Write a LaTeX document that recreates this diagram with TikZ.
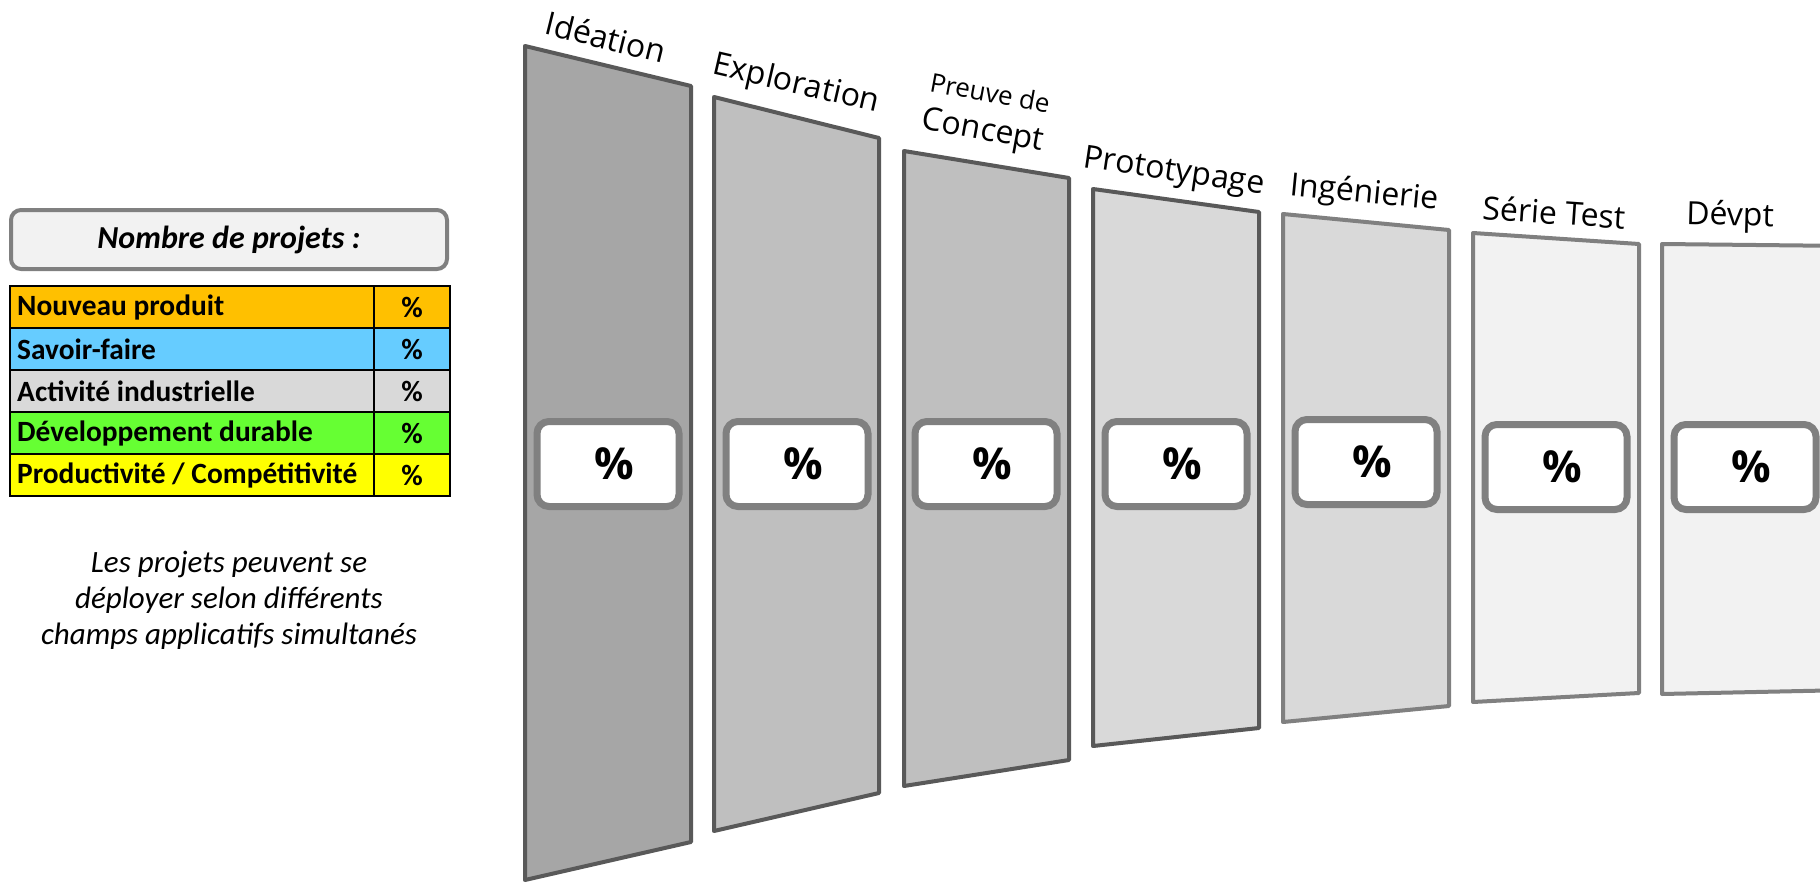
\documentclass[tikz,border=0pt]{standalone}
\usepackage{fontspec}
\setmainfont{Carlito}
\newfontfamily\etapefont{Open Sans}
\usetikzlibrary{shapes}
\definecolor{etapeA}{HTML}{A6A6A6}
\definecolor{etapeB}{HTML}{BFBFBF}
\definecolor{etapeC}{HTML}{D9D9D9}
\definecolor{etapeD}{HTML}{F2F2F2}
\definecolor{bordA}{HTML}{595959}
\definecolor{bordB}{HTML}{808080}
\definecolor{champNP}{HTML}{FFC000}
\definecolor{champSF}{HTML}{66CCFF}
\definecolor{champAI}{HTML}{D9D9D9}
\definecolor{champDD}{HTML}{66FF33}
\definecolor{champPC}{HTML}{FFFF00}
\tikzset{
	every node/.style={
		font=\fontsize{14}{16}\selectfont
	},
	titre/.style={
		shape=rectangle,
		minimum width=218pt,
		minimum height=29.5pt,
		rounded corners=5pt,
		fill=etapeD,
		draw=bordB,
		line width=2pt,
		font=\fontsize{16}{18}\selectfont\bfseries\itshape
	},
	cellule/.style={
		shape=rectangle,
		anchor=north west,
		text width=175pt,
		inner xsep=3.5pt,
		inner ysep=0pt,
		minimum height=21pt,
		align=flush left,
		draw=black,
		line width=1.2pt,
		font=\fontsize{14.7}{16}\selectfont\bfseries
	},
	cellpct/.style={
		shape=rectangle,
		anchor=north west,
		minimum width=38pt,
		minimum height=21pt,
		inner sep=0pt,
		draw=black,
		line width=1.2pt,
		font=\fontsize{14.7}{16}\selectfont\bfseries
	},
	remarque/.style={
		align=flush center,
		font=\fontsize{15.5}{18}\selectfont\itshape
	},
	panneau/.style={
		line width=2pt,
		line join=round
	},
	boitepct/.style={
		shape=rectangle,
		minimum width=71pt,
		minimum height=42.5pt,
		rounded corners=6pt,
		fill=white,
		draw=bordB,
		line width=3.5pt,
		text depth=0pt,
		font=\etapefont\fontsize{22}{24}\selectfont\bfseries
	},
	etiquette/.style={
		align=center,
		inner sep=0pt,
		font=\etapefont\fontsize{16}{17}\selectfont
	}
}

\begin{document}
\begin{tikzpicture}[x=0.5pt, y=-0.5pt]
	\useasboundingbox (0,0) rectangle (1820,883);
	\clip (0,0) rectangle (1820,883);
	
	\node[titre] (titre) at (229,239.5) {Nombre de projets :};
	
	\foreach \lbl/\col [count=\i] in {Nouveau produit/champNP, Savoir-faire/champSF, Activité industrielle/champAI, Développement durable/champDD, {Productivité / Compétitivité}/champPC}
	{
		\node[cellule, fill=\col] (champ-\i) at (9,{285+42*(\i-1)}) {\lbl};
		\node[cellpct, fill=\col] (pc-\i) at (373,{285+42*(\i-1)}) {\%};
	}
	
	\node[remarque] (remarque) at (229,600) {Les projets peuvent se\\déployer selon différents\\champs applicatifs simultanés};
	
	\foreach \i/\xl/\xr/\ya/\yb/\yc/\yd/\fc/\dc in {
		1/525/691/46/86/842/880/etapeA/bordA,
		2/714/879/97/138/793/831/etapeB/bordA,
		3/904/1069/151/178/760/786/etapeB/bordA,
		4/1093/1259/189/212/728/746/etapeC/bordA,
		5/1283/1449/214/230/706/722/etapeC/bordB,
		6/1473/1639/233/244/693/702/etapeD/bordB,
		7/1662/1850/244/246/690/694/etapeD/bordB}
	\draw[panneau, fill=\fc, draw=\dc] (\xl,\ya) -- (\xr,\yb) -- (\xr,\yc) -- (\xl,\yd) -- cycle;
	
	\foreach \i/\x/\y in {1/608/464, 2/797/464, 3/986/464, 4/1176/464, 5/1366/462, 6/1556/467, 7/1745/467}
	\node[boitepct] (pct-\i) at (\x,\y) {\hspace{6pt}\%};
	
	\foreach \i/\x/\y/\a/\txt in {
		1/606/37/-14/Idéation,
		2/796/85/-13/Exploration,
		3/986/115/-10.5/{{\fontsize{13}{15}\selectfont Preuve de}\\[2pt]Concept},
		4/1174/173/-8.5/Prototypage,
		5/1364/194/-5.5/Ingénierie,
		6/1554/212/-4/Série Test,
		7/1730/217/-1.5/Dévpt}
	\node[etiquette, rotate=\a] (etape-\i) at (\x,\y) {\txt};
\end{tikzpicture}
\end{document}
